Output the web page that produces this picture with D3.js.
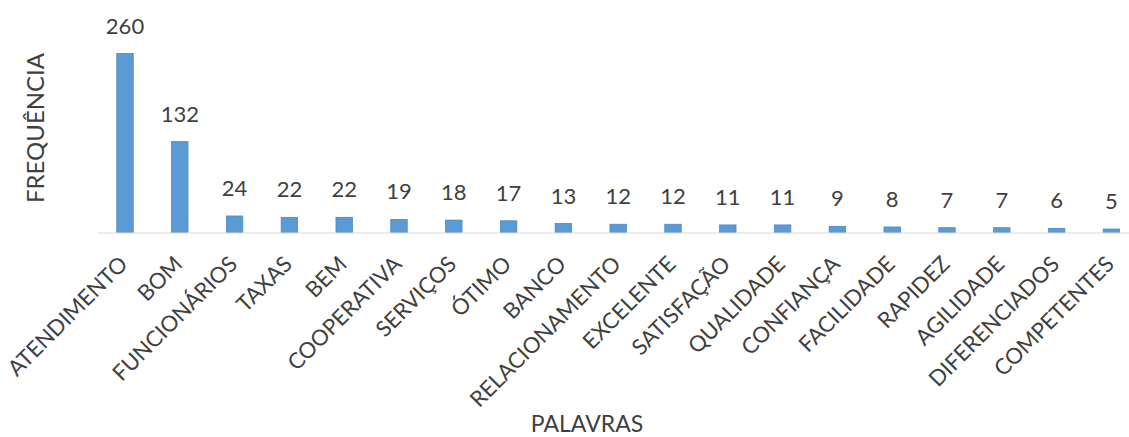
<!DOCTYPE html>
<html>
<head>
<meta charset="utf-8">
<script src="https://cdn.jsdelivr.net/npm/d3@7"></script>
<style>
  body { margin: 0; background: #fff; }
  svg text { font-family: Lato, "Open Sans", sans-serif; fill: #404040; }
</style>
</head>
<body>
<svg id="chart" width="1129" height="437"></svg>
<script>
// words and how often each one was cited
const palavras = ['ATENDIMENTO', 'BOM', 'FUNCIONÁRIOS', 'TAXAS', 'BEM', 'COOPERATIVA', 'SERVIÇOS',
    'ÓTIMO', 'BANCO', 'RELACIONAMENTO', 'EXCELENTE', 'SATISFAÇÃO', 'QUALIDADE', 'CONFIANÇA',
    'FACILIDADE', 'RAPIDEZ', 'AGILIDADE', 'DIFERENCIADOS', 'COMPETENTES'];
const frequencia = [260, 132, 24, 22, 22, 19, 18, 17, 13, 12, 12, 11, 11, 9, 8, 7, 7, 6, 5];
const yMax = 300;

const svg = d3.select('#chart');

const margin = { left: 97.6, top: 26, axisY: 232.5 };
const bandW = 54.8;

const x = d3.scaleBand()
    .domain(palavras)
    .range([margin.left, margin.left + bandW * palavras.length])
    .paddingInner(0.7)
    .paddingOuter(0.35);

const y = d3.scaleLinear()
    .domain([0, yMax])
    .range([margin.axisY, margin.top]);

// bars
svg.append('g').attr('class', 'bars')
    .selectAll('rect')
    .data(frequencia)
    .enter()
    .append('rect')
    .attr('x', (d, i) => x(palavras[i]))
    .attr('y', d => y(d))
    .attr('width', x.bandwidth())
    .attr('height', d => y(0) - y(d))
    .attr('fill', '#5b9bd5')
    .attr('stroke', '#4a88c4')
    .attr('stroke-width', 0.8);

// value labels above bars
svg.append('g').attr('class', 'labels')
    .selectAll('text')
    .data(frequencia)
    .enter()
    .append('text')
    .attr('x', (d, i) => x(palavras[i]) + x.bandwidth() / 2)
    .attr('y', d => y(d) - 20)
    .attr('text-anchor', 'middle')
    .attr('font-size', 22)
    .text(d => d);

// x axis line
svg.append('line')
    .attr('x1', margin.left).attr('x2', margin.left + bandW * palavras.length)
    .attr('y1', margin.axisY + 0.5).attr('y2', margin.axisY + 0.5)
    .attr('stroke', '#d9d9d9')
    .attr('stroke-width', 1.2);

// category labels, rotated
svg.append('g').attr('class', 'x-labels')
    .selectAll('text')
    .data(palavras)
    .enter()
    .append('text')
    .attr('transform', d => {
        const cx = x(d) + x.bandwidth() / 2 + 4;
        return 'translate(' + cx + ',' + (margin.axisY + 33) + ') rotate(-45)';
    })
    .attr('text-anchor', 'end')
    .attr('font-size', 22)
    .text(d => d);

// axis titles
svg.append('text')
    .attr('transform', 'translate(44,128) rotate(-90)')
    .attr('text-anchor', 'middle')
    .attr('font-size', 24)
    .text('FREQUÊNCIA');

svg.append('text')
    .attr('x', 587)
    .attr('y', 432)
    .attr('text-anchor', 'middle')
    .attr('font-size', 23)
    .text('PALAVRAS');
</script>
</body>
</html>
